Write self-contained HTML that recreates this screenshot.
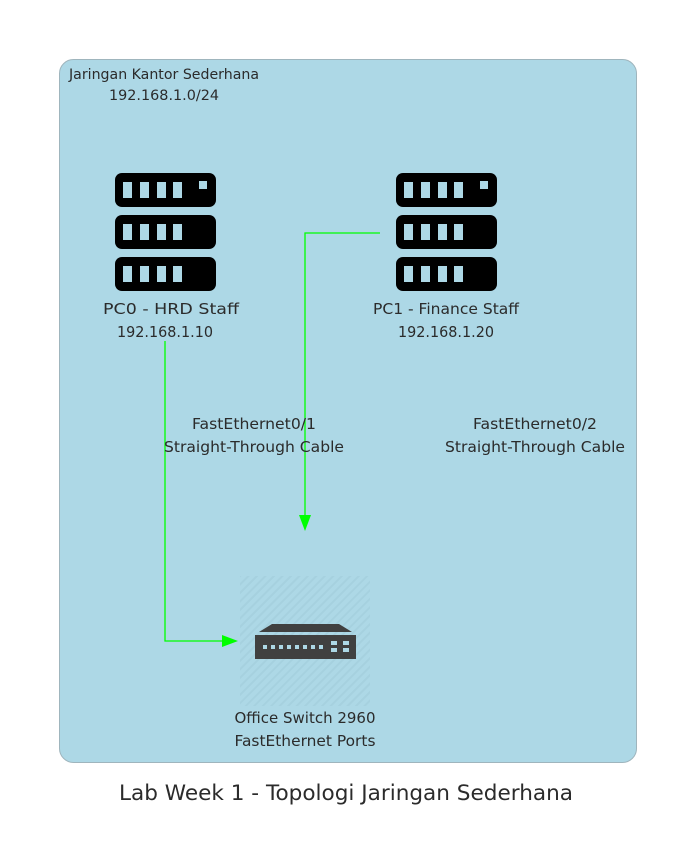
<!DOCTYPE html>
<html><head><meta charset="utf-8"><style>
html,body{margin:0;padding:0;background:#fff;width:695px;height:862px;overflow:hidden}
text{font-family:"DejaVu Sans","Liberation Sans",sans-serif;fill:#2b2b2b}
</style></head><body>
<svg width="695" height="862" viewBox="0 0 695 862" xmlns="http://www.w3.org/2000/svg">
<defs>
<pattern id="hatch" width="6" height="6" patternUnits="userSpaceOnUse" patternTransform="rotate(45)">
<rect width="6" height="6" fill="#add8e6"/><rect width="2" height="6" fill="#a6d1df"/>
</pattern>
<g id="srv">
<rect x="0" y="0" width="101" height="34" rx="7" fill="#000"/>
<rect x="8" y="9" width="9" height="16" fill="#add8e6"/><rect x="25" y="9" width="9" height="16" fill="#add8e6"/>
<rect x="42" y="9" width="9" height="16" fill="#add8e6"/><rect x="58" y="9" width="9" height="16" fill="#add8e6"/>
<rect x="84" y="8" width="8" height="8" fill="#add8e6"/>
<rect x="0" y="42" width="101" height="34" rx="7" fill="#000"/>
<rect x="8" y="51" width="9" height="16" fill="#add8e6"/><rect x="25" y="51" width="9" height="16" fill="#add8e6"/>
<rect x="42" y="51" width="9" height="16" fill="#add8e6"/><rect x="58" y="51" width="9" height="16" fill="#add8e6"/>
<rect x="0" y="84" width="101" height="34" rx="7" fill="#000"/>
<rect x="8" y="93" width="9" height="16" fill="#add8e6"/><rect x="25" y="93" width="9" height="16" fill="#add8e6"/>
<rect x="42" y="93" width="9" height="16" fill="#add8e6"/><rect x="58" y="93" width="9" height="16" fill="#add8e6"/>
</g>
</defs>
<rect x="59.5" y="59.5" width="577" height="703" rx="14" fill="#add8e6" stroke="#9fb5bd" stroke-width="1"/>
<text x="164" y="79" font-size="14" text-anchor="middle" textLength="190" lengthAdjust="spacingAndGlyphs">Jaringan Kantor Sederhana</text>
<text x="164" y="100" font-size="14" text-anchor="middle" textLength="110" lengthAdjust="spacingAndGlyphs">192.168.1.0/24</text>

<use href="#srv" x="115" y="173"/>
<use href="#srv" x="396" y="173"/>
<text x="171" y="314" font-size="15.5" text-anchor="middle" textLength="136" lengthAdjust="spacingAndGlyphs">PC0 - HRD Staff</text>
<text x="165" y="337" font-size="15.5" text-anchor="middle" textLength="96" lengthAdjust="spacingAndGlyphs">192.168.1.10</text>
<text x="446" y="314" font-size="15.5" text-anchor="middle" textLength="146" lengthAdjust="spacingAndGlyphs">PC1 - Finance Staff</text>
<text x="446" y="337" font-size="15.5" text-anchor="middle" textLength="96" lengthAdjust="spacingAndGlyphs">192.168.1.20</text>

<rect x="240" y="576" width="130" height="130" fill="url(#hatch)"/>
<polygon points="272,624 339,624 352,632 259,632" fill="#404040"/>
<rect x="255" y="635" width="101" height="24" fill="#404040"/>
<g fill="#add8e6">
<rect x="263" y="645" width="4" height="4"/><rect x="271" y="645" width="4" height="4"/><rect x="279" y="645" width="4" height="4"/><rect x="287" y="645" width="4" height="4"/><rect x="295" y="645" width="4" height="4"/><rect x="303" y="645" width="4" height="4"/><rect x="311" y="645" width="4" height="4"/><rect x="319" y="645" width="4" height="4"/>
<rect x="331" y="641" width="6" height="4"/><rect x="331" y="648" width="6" height="4"/><rect x="343" y="641" width="6" height="4"/><rect x="343" y="648" width="6" height="4"/>
</g>
<text x="305" y="723" font-size="15.5" text-anchor="middle" textLength="141" lengthAdjust="spacingAndGlyphs">Office Switch 2960</text>
<text x="305" y="746" font-size="15.5" text-anchor="middle" textLength="141" lengthAdjust="spacingAndGlyphs">FastEthernet Ports</text>

<polyline points="165,341 165,641 224,641" fill="none" stroke="#00ff00" stroke-width="1.3"/>
<polygon points="222,635 238,641 222,647" fill="#00ff00"/>
<polyline points="380,233 305,233 305,517" fill="none" stroke="#00ff00" stroke-width="1.3"/>
<polygon points="299,515 311,515 305,531" fill="#00ff00"/>

<text x="254" y="429" font-size="15.5" text-anchor="middle" textLength="124" lengthAdjust="spacingAndGlyphs">FastEthernet0/1</text>
<text x="254" y="452" font-size="15.5" text-anchor="middle" textLength="180" lengthAdjust="spacingAndGlyphs">Straight-Through Cable</text>
<text x="535" y="429" font-size="15.5" text-anchor="middle" textLength="124" lengthAdjust="spacingAndGlyphs">FastEthernet0/2</text>
<text x="535" y="452" font-size="15.5" text-anchor="middle" textLength="180" lengthAdjust="spacingAndGlyphs">Straight-Through Cable</text>

<text x="346" y="800" font-size="21.5" text-anchor="middle" textLength="454" lengthAdjust="spacingAndGlyphs">Lab Week 1 - Topologi Jaringan Sederhana</text>
</svg>
</body></html>
